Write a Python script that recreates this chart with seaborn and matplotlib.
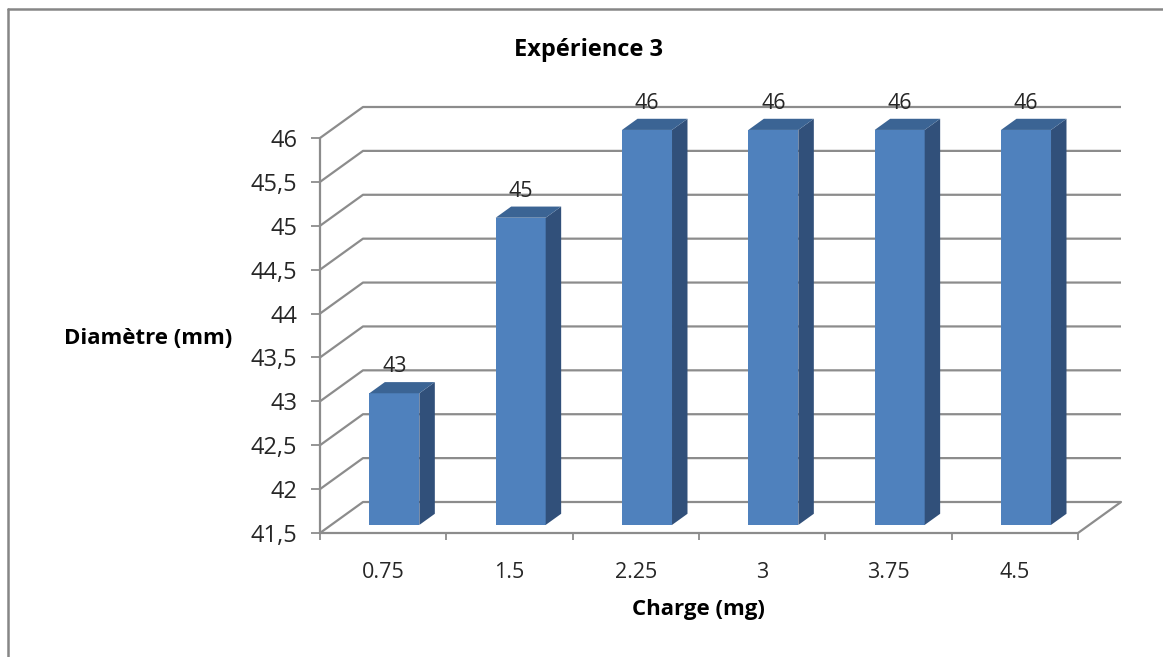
import numpy as np
import pandas as pd
import matplotlib
matplotlib.use("Agg")
import matplotlib.pyplot as plt
from matplotlib.patches import Polygon
from matplotlib.lines import Line2D
import seaborn as sns

# Data
charges = ["0.75", "1.5", "2.25", "3", "3.75", "4.5"]
diametres = [43, 45, 46, 46, 46, 46]
y_ticks = [41.5, 42, 42.5, 43, 43.5, 44, 44.5, 45, 45.5, 46]

title = "Expérience 3"
x_title = "Charge (mg)"
y_title = "Diamètre (mm)"

df = pd.DataFrame({"Charge": charges, "Diametre": diametres})

sns.set_theme(style="white")
plt.rcParams["font.family"] = ["Open Sans", "DejaVu Sans"]

W, H = 1163, 657
fig = plt.figure(figsize=(W / 100, H / 100), dpi=100)

# Front plane of the 3D box in pixel coordinates
X0, X1 = 320, 1078
Y_BOT, Y_TOP = 533, 138
ax = fig.add_axes([X0 / W, (H - Y_BOT) / H, (X1 - X0) / W, (Y_BOT - Y_TOP) / H])

YMIN, YMAX = y_ticks[0], y_ticks[-1]
n = len(charges)
ax.set_xlim(-0.5, n - 0.5)
ax.set_ylim(YMIN, YMAX)

px_x = (X1 - X0) / n            # pixels per category
px_y = (Y_BOT - Y_TOP) / (YMAX - YMIN)  # pixels per value unit

# Depth of the box (front -> back wall), in data units
DX, DY = 43 / px_x, 31 / px_y
# Bar front/back planes as fractions of the depth
F_FRONT, F_BACK = 0.26, 0.62

GRID = "#8c8c8c"
FRONT = "#4f81bd"
TOP = "#3b6494"
SIDE = "#31507a"
TXT = "#262626"

# Walls: gridlines running from the front edge to the back wall
for v in y_ticks:
    ax.plot([-0.5, -0.5 + DX, n - 0.5 + DX], [v, v + DY, v + DY],
            color=GRID, lw=1.6, clip_on=False, zorder=1, solid_capstyle="butt")
# Floor outline
ax.plot([-0.5, n - 0.5, n - 0.5 + DX], [YMIN, YMIN, YMIN + DY],
        color=GRID, lw=1.6, clip_on=False, zorder=1)
ax.plot([-0.5, -0.5], [YMIN, YMAX], color=GRID, lw=1.6, clip_on=False, zorder=1)

# Bars (front faces) via seaborn
bw = 50 / px_x
sns.barplot(data=df, x="Charge", y="Diametre", color=FRONT, saturation=1,
            width=bw, ax=ax, zorder=3, linewidth=0)

ox_f, oy_f = F_FRONT * DX, F_FRONT * DY
ox_b, oy_b = F_BACK * DX, F_BACK * DY
for p, val in zip(ax.patches, diametres):
    x_left = p.get_x()
    top = p.get_height()
    p.set_height(top - YMIN)
    p.set_x(x_left + ox_f)
    p.set_y(YMIN + oy_f)
    p.set_clip_on(False)
    xl, xr = x_left + ox_f, x_left + ox_f + bw
    yb, yt = YMIN + oy_f, top + oy_f
    ddx, ddy = ox_b - ox_f, oy_b - oy_f
    side = Polygon([(xr, yb), (xr + ddx, yb + ddy), (xr + ddx, yt + ddy), (xr, yt)],
                   closed=True, facecolor=SIDE, edgecolor="none", zorder=3, clip_on=False)
    lid = Polygon([(xl, yt), (xr, yt), (xr + ddx, yt + ddy), (xl + ddx, yt + ddy)],
                  closed=True, facecolor=TOP, edgecolor="none", zorder=3, clip_on=False)
    ax.add_patch(side)
    ax.add_patch(lid)
    ax.annotate(f"{val}", xy=((xl + xr) / 2, yt), xytext=(0, 19),
                textcoords="offset points", ha="center", va="center",
                fontsize=15.5, color=TXT, annotation_clip=False, zorder=5)

# Axes styling
for s in ax.spines.values():
    s.set_visible(False)
ax.set_yticks(y_ticks)
ax.set_yticklabels([f"{v:g}".replace(".", ",") for v in y_ticks])
ax.set_xticks(range(n))
ax.set_xticklabels(charges)
ax.set_xticks(np.arange(-0.5, n, 1.0), minor=True)
ax.tick_params(axis="y", which="major", direction="out", length=6.5, width=1.3,
               color=GRID, labelsize=17, labelcolor=TXT, pad=10, left=True)
ax.tick_params(axis="x", which="major", length=0, labelsize=15.5, labelcolor=TXT, pad=21)
ax.tick_params(axis="x", which="minor", direction="out", length=5, width=1.3,
               color=GRID, bottom=True)
ax.set_xlabel("")
ax.set_ylabel("")
ax.grid(False)
ax.set_facecolor("none")

fig.text(589 / W, 1 - 50 / H, title, ha="center", va="center",
         fontsize=17, fontweight="bold", color="#000000")
fig.text(148 / W, 1 - 338 / H, y_title, ha="center", va="center",
         fontsize=16, fontweight="bold", color="#000000")
fig.text(698 / W, 1 - 609 / H, x_title, ha="center", va="center",
         fontsize=16, fontweight="bold", color="#000000")

# Chart area border
fig.add_artist(Line2D([8 / W, 8 / W], [0, 1 - 9 / H], transform=fig.transFigure,
                      color="#868686", lw=1.8))
fig.add_artist(Line2D([8 / W, 1], [1 - 9 / H, 1 - 9 / H], transform=fig.transFigure,
                      color="#868686", lw=1.8))

fig.savefig("out.png", dpi=100, facecolor="white")
